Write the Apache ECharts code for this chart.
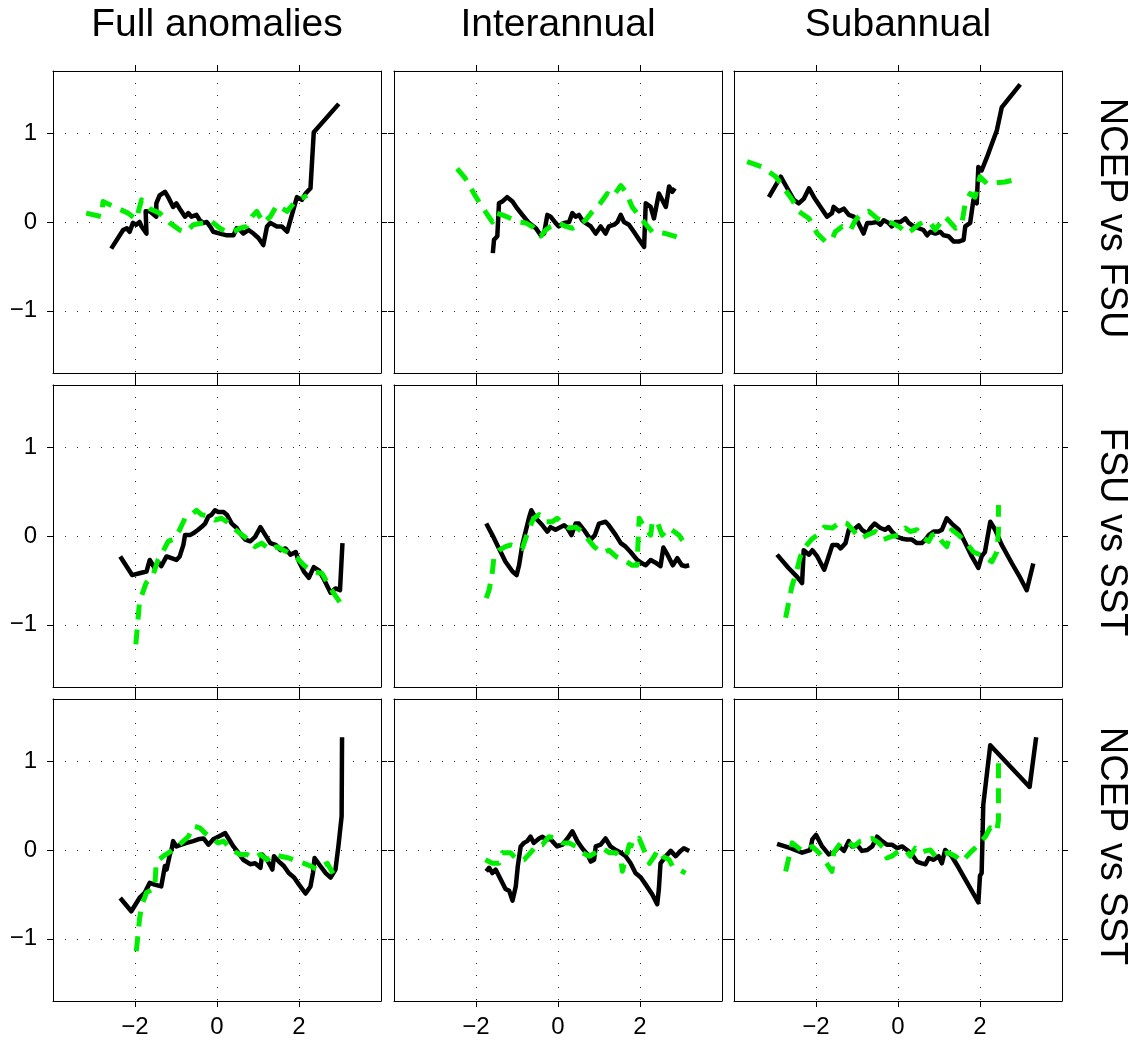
<!DOCTYPE html>
<html><head><meta charset="utf-8">
<script src="https://cdn.jsdelivr.net/npm/echarts@6/dist/echarts.min.js"></script>
<style>html,body{margin:0;padding:0;background:#fff}#c{width:1135px;height:1046px}</style>
</head><body><div id="c"></div>
<script>
const colTitles = ['Full anomalies', 'Interannual', 'Subannual'];
const rowTitles = ['NCEP vs FSU', 'FSU vs SST', 'NCEP vs SST'];
const xTicks = [-2, 0, 2];
const yTicks = [-1, 0, 1];

// Row 1: NCEP vs FSU
const ncepFsuFullBlack = [[-2.58,-0.30],[-2.29,-0.09],[-2.20,-0.07],[-2.13,-0.11],[-2.05,-0.01],[-1.97,-0.03],[-1.89,0.00],[-1.84,-0.05],[-1.72,-0.13],[-1.74,0.12],[-1.64,0.12],[-1.48,0.06],[-1.48,0.21],[-1.40,0.30],[-1.27,0.34],[-1.19,0.28],[-1.07,0.17],[-0.99,0.21],[-0.91,0.15],[-0.78,0.06],[-0.70,0.10],[-0.62,0.06],[-0.50,0.08],[-0.42,0.02],[-0.33,-0.01],[-0.25,0.00],[-0.17,-0.05],[-0.09,-0.11],[0.07,-0.13],[0.24,-0.15],[0.40,-0.15],[0.48,-0.07],[0.56,-0.09],[0.64,-0.13],[0.77,-0.09],[0.89,-0.13],[1.01,-0.18],[1.13,-0.26],[1.22,-0.05],[1.30,-0.01],[1.46,-0.05],[1.58,-0.05],[1.71,-0.11],[1.79,0.02],[1.87,0.15],[1.95,0.28],[2.07,0.25],[2.16,0.32],[2.28,0.38],[2.36,1.01],[2.97,1.33]];
const ncepFsuFullGreen = [[-3.19,0.10],[-2.82,0.06],[-2.78,0.23],[-2.17,0.10],[-1.97,0.03],[-1.84,0.25],[-1.64,0.15],[-1.40,0.10],[-1.15,-0.01],[-0.91,-0.09],[-0.74,-0.11],[-0.58,-0.03],[-0.33,-0.01],[-0.17,0.02],[-0.09,-0.01],[0.07,-0.07],[0.24,-0.11],[0.40,-0.11],[0.56,-0.07],[0.73,-0.05],[0.85,0.06],[0.97,0.12],[1.13,-0.01],[1.30,0.06],[1.46,0.19],[1.71,0.12],[1.87,0.21],[1.99,0.25],[2.20,0.30]];
const ncepFsuInterBlack = [[-1.59,-0.35],[-1.56,-0.20],[-1.48,-0.16],[-1.44,0.21],[-1.36,0.23],[-1.24,0.28],[-1.11,0.23],[-0.99,0.15],[-0.87,0.08],[-0.71,-0.01],[-0.54,-0.07],[-0.42,-0.15],[-0.34,-0.13],[-0.26,0.08],[-0.18,0.06],[-0.06,-0.01],[0.02,-0.05],[0.15,-0.01],[0.27,0.00],[0.35,0.10],[0.43,0.06],[0.51,0.08],[0.59,0.02],[0.67,-0.01],[0.80,-0.05],[0.92,-0.13],[1.04,-0.05],[1.16,-0.13],[1.24,-0.05],[1.37,-0.03],[1.45,0.00],[1.53,0.08],[1.61,0.00],[1.73,-0.03],[1.85,-0.11],[1.98,-0.20],[2.10,-0.28],[2.14,0.21],[2.26,0.17],[2.34,0.04],[2.46,0.32],[2.54,0.25],[2.63,0.17],[2.71,0.40],[2.79,0.34],[2.85,0.38]];
const ncepFsuInterGreen = [[-2.46,0.60],[-2.26,0.49],[-2.05,0.32],[-1.85,0.17],[-1.60,0.00],[-1.52,0.10],[-1.36,0.08],[-1.15,0.04],[-0.95,0.00],[-0.79,-0.01],[-0.63,-0.05],[-0.42,-0.16],[-0.30,-0.09],[-0.18,-0.05],[0.02,-0.01],[0.19,-0.05],[0.35,-0.07],[0.51,-0.03],[0.67,0.02],[0.84,0.12],[1.00,0.19],[1.20,0.32],[1.33,0.28],[1.53,0.41],[1.65,0.34],[1.81,0.17],[2.06,0.02],[2.30,-0.11],[2.63,-0.13],[2.99,-0.18]];
const ncepFsuSubBlack = [[-3.15,0.28],[-2.86,0.51],[-2.70,0.38],[-2.54,0.25],[-2.42,0.21],[-2.30,0.26],[-2.17,0.38],[-2.05,0.28],[-1.89,0.17],[-1.73,0.06],[-1.61,0.10],[-1.57,0.17],[-1.44,0.12],[-1.32,0.15],[-1.20,0.08],[-1.08,0.06],[-1.00,0.02],[-0.84,-0.13],[-0.75,-0.01],[-0.63,-0.01],[-0.51,0.00],[-0.43,-0.03],[-0.35,0.02],[-0.23,-0.01],[-0.15,-0.05],[-0.06,0.00],[0.06,0.00],[0.18,0.04],[0.26,-0.01],[0.38,-0.05],[0.50,-0.07],[0.62,-0.09],[0.71,-0.15],[0.79,-0.11],[0.91,-0.13],[1.03,-0.11],[1.11,-0.15],[1.23,-0.16],[1.36,-0.22],[1.48,-0.22],[1.60,-0.20],[1.64,-0.05],[1.76,-0.01],[1.84,0.25],[1.92,0.21],[1.96,0.62],[2.04,0.58],[2.17,0.73],[2.29,0.88],[2.41,1.03],[2.53,1.29],[2.98,1.55]];
const ncepFsuSubGreen = [[-3.68,0.68],[-3.31,0.62],[-2.98,0.51],[-2.58,0.25],[-2.42,0.12],[-2.17,0.04],[-1.97,-0.13],[-1.77,-0.22],[-1.61,-0.20],[-1.53,-0.11],[-1.36,-0.05],[-1.16,-0.09],[-1.04,0.02],[-0.92,0.08],[-0.71,0.12],[-0.51,0.04],[-0.31,0.00],[-0.15,-0.01],[0.02,-0.05],[0.22,-0.13],[0.34,-0.09],[0.50,-0.03],[0.62,0.00],[0.79,-0.01],[0.91,-0.09],[1.03,-0.01],[1.15,0.06],[1.23,0.02],[1.40,-0.07],[1.56,-0.01],[1.64,0.21],[1.76,0.32],[1.88,0.28],[2.00,0.51],[2.17,0.43],[2.61,0.45],[2.98,0.49]];

// Row 2: FSU vs SST
const fsuSstFullBlack = [[-2.36,-0.23],[-2.07,-0.44],[-1.89,-0.42],[-1.72,-0.40],[-1.64,-0.27],[-1.52,-0.36],[-1.44,-0.29],[-1.36,-0.34],[-1.23,-0.23],[-1.11,-0.25],[-0.99,-0.27],[-0.91,-0.23],[-0.82,-0.10],[-0.78,0.01],[-0.66,0.01],[-0.58,0.03],[-0.46,0.07],[-0.38,0.10],[-0.29,0.14],[-0.21,0.22],[-0.13,0.24],[-0.05,0.29],[0.03,0.27],[0.16,0.27],[0.24,0.24],[0.36,0.14],[0.48,0.09],[0.56,0.03],[0.69,-0.04],[0.81,-0.06],[0.93,-0.01],[1.06,0.10],[1.18,0.01],[1.30,-0.08],[1.43,-0.10],[1.55,-0.16],[1.67,-0.14],[1.79,-0.21],[1.92,-0.18],[2.00,-0.29],[2.12,-0.40],[2.24,-0.47],[2.36,-0.35],[2.49,-0.39],[2.61,-0.49],[2.77,-0.64],[2.89,-0.59],[3.00,-0.61],[3.06,-0.08]];
const fsuSstFullGreen = [[-1.98,-1.22],[-1.89,-0.74],[-1.73,-0.53],[-1.56,-0.44],[-1.44,-0.27],[-1.28,-0.14],[-1.19,-0.06],[-1.03,-0.03],[-0.91,0.07],[-0.78,0.20],[-0.62,0.24],[-0.50,0.29],[-0.38,0.24],[-0.21,0.22],[-0.05,0.18],[0.11,0.20],[0.24,0.16],[0.40,0.09],[0.56,0.03],[0.73,-0.03],[0.93,-0.12],[1.09,-0.08],[1.30,-0.16],[1.46,-0.12],[1.71,-0.18],[1.96,-0.25],[2.12,-0.33],[2.32,-0.40],[2.56,-0.42],[2.77,-0.59],[3.09,-0.81]];
const fsuSstInterBlack = [[-1.75,0.14],[-1.60,0.01],[-1.44,-0.14],[-1.28,-0.29],[-1.11,-0.40],[-1.01,-0.44],[-0.95,-0.33],[-0.87,-0.10],[-0.79,0.05],[-0.71,0.20],[-0.65,0.29],[-0.54,0.20],[-0.38,0.12],[-0.26,0.05],[-0.18,0.10],[-0.06,0.07],[0.02,0.09],[0.15,0.12],[0.23,0.09],[0.33,0.01],[0.43,0.14],[0.51,0.14],[0.63,0.07],[0.72,0.01],[0.80,-0.04],[0.90,0.01],[1.00,0.14],[1.16,0.16],[1.24,0.12],[1.41,0.01],[1.53,-0.08],[1.65,-0.12],[1.77,-0.18],[1.93,-0.27],[2.06,-0.31],[2.14,-0.33],[2.26,-0.27],[2.38,-0.30],[2.50,-0.34],[2.57,-0.13],[2.67,-0.21],[2.80,-0.33],[2.91,-0.25],[3.02,-0.33],[3.11,-0.34],[3.20,-0.33]];
const fsuSstInterGreen = [[-1.75,-0.70],[-1.68,-0.61],[-1.60,-0.40],[-1.56,-0.23],[-1.44,-0.16],[-1.28,-0.12],[-1.15,-0.10],[-0.87,-0.14],[-0.79,-0.03],[-0.67,0.12],[-0.59,0.20],[-0.46,0.24],[-0.30,0.16],[-0.14,0.16],[-0.02,0.20],[0.11,0.14],[0.27,0.09],[0.43,0.10],[0.59,0.05],[0.72,-0.03],[0.88,-0.12],[1.08,-0.19],[1.24,-0.16],[1.41,-0.23],[1.61,-0.27],[1.81,-0.33],[1.93,-0.33],[1.96,0.01],[1.98,0.20],[2.10,0.10],[2.26,0.01],[2.30,0.16],[2.42,0.16],[2.54,0.01],[2.71,0.09],[2.83,0.05],[2.95,0.01],[3.11,-0.10]];
const fsuSstSubBlack = [[-2.95,-0.21],[-2.67,-0.36],[-2.46,-0.46],[-2.34,-0.53],[-2.30,-0.16],[-2.17,-0.21],[-2.09,-0.16],[-1.97,-0.23],[-1.80,-0.38],[-1.72,-0.27],[-1.60,-0.10],[-1.48,-0.10],[-1.40,-0.14],[-1.28,-0.08],[-1.20,0.07],[-1.08,0.07],[-0.96,0.12],[-0.88,0.07],[-0.75,0.03],[-0.67,0.09],[-0.57,0.14],[-0.43,0.09],[-0.31,0.07],[-0.23,0.10],[-0.15,0.05],[-0.02,-0.01],[0.10,-0.03],[0.22,-0.04],[0.34,-0.04],[0.46,-0.08],[0.58,-0.08],[0.67,-0.04],[0.75,0.01],[0.87,0.05],[0.99,0.05],[1.07,0.07],[1.19,0.20],[1.31,0.14],[1.48,0.07],[1.64,-0.08],[1.80,-0.23],[1.96,-0.36],[2.04,-0.23],[2.12,-0.18],[2.25,0.16],[2.37,0.07],[2.53,-0.10],[2.78,-0.31],[2.98,-0.47],[3.14,-0.61],[3.30,-0.31]];
const fsuSstSubGreen = [[-2.74,-0.92],[-2.59,-0.57],[-2.50,-0.44],[-2.38,-0.23],[-2.26,-0.12],[-2.09,-0.03],[-1.97,0.01],[-1.80,0.10],[-1.60,0.09],[-1.40,0.16],[-1.24,0.14],[-0.92,-0.03],[-0.75,0.01],[-0.55,0.05],[-0.35,-0.04],[-0.19,-0.01],[0.02,0.01],[0.18,0.09],[0.30,0.05],[0.46,0.07],[0.58,-0.01],[0.75,-0.06],[0.83,0.01],[0.95,0.03],[1.07,-0.06],[1.19,-0.12],[1.31,0.07],[1.48,0.01],[1.64,-0.06],[1.84,-0.18],[2.09,-0.23],[2.29,-0.29],[2.41,-0.18],[2.45,0.05],[2.45,0.35]];

// Row 3: NCEP vs SST
const ncepSstFullBlack = [[-2.36,-0.54],[-2.09,-0.69],[-1.89,-0.54],[-1.76,-0.48],[-1.64,-0.37],[-1.52,-0.39],[-1.36,-0.41],[-1.27,-0.18],[-1.23,-0.22],[-1.15,-0.05],[-1.11,0.00],[-1.07,0.10],[-0.99,0.04],[-0.87,0.06],[-0.74,0.08],[-0.58,0.10],[-0.46,0.12],[-0.33,0.13],[-0.21,0.06],[-0.09,0.12],[0.03,0.15],[0.20,0.19],[0.28,0.13],[0.40,0.04],[0.52,-0.03],[0.64,-0.11],[0.81,-0.16],[0.93,-0.15],[1.06,-0.20],[1.10,-0.05],[1.22,-0.11],[1.35,-0.22],[1.39,-0.07],[1.51,-0.13],[1.63,-0.18],[1.75,-0.26],[1.88,-0.31],[2.00,-0.39],[2.16,-0.49],[2.28,-0.41],[2.34,-0.26],[2.38,-0.09],[2.52,-0.18],[2.65,-0.26],[2.77,-0.31],[2.89,-0.22],[2.96,0.04],[3.04,0.38],[3.05,1.27]];
const ncepSstFullGreen = [[-1.97,-1.14],[-1.93,-0.97],[-1.89,-0.78],[-1.84,-0.63],[-1.72,-0.48],[-1.52,-0.43],[-1.48,-0.13],[-1.31,-0.07],[-1.11,-0.01],[-0.87,0.08],[-0.70,0.15],[-0.58,0.27],[-0.42,0.25],[-0.29,0.19],[-0.13,0.13],[0.03,0.08],[0.16,0.10],[0.36,0.00],[0.56,-0.05],[0.73,-0.05],[0.89,-0.09],[1.06,-0.05],[1.22,-0.11],[1.39,-0.05],[1.55,-0.07],[1.75,-0.09],[1.96,-0.13],[2.12,-0.15],[2.28,-0.18],[2.44,-0.22],[2.69,-0.15],[2.85,-0.28]];
const ncepSstInterBlack = [[-1.75,-0.24],[-1.68,-0.20],[-1.60,-0.26],[-1.52,-0.22],[-1.40,-0.33],[-1.28,-0.44],[-1.19,-0.46],[-1.11,-0.57],[-1.03,-0.41],[-0.98,-0.18],[-0.91,0.04],[-0.83,0.08],[-0.75,0.10],[-0.67,0.15],[-0.59,0.08],[-0.46,0.13],[-0.38,0.15],[-0.30,0.12],[-0.18,0.12],[-0.10,0.08],[-0.02,0.04],[0.11,0.06],[0.23,0.13],[0.35,0.21],[0.47,0.10],[0.59,0.02],[0.72,-0.05],[0.80,-0.13],[0.88,-0.11],[0.92,0.04],[1.04,0.06],[1.16,0.13],[1.28,0.04],[1.41,0.00],[1.53,-0.03],[1.65,-0.07],[1.77,-0.15],[1.89,-0.26],[2.02,-0.31],[2.14,-0.39],[2.30,-0.50],[2.42,-0.61],[2.46,-0.44],[2.50,-0.15],[2.63,-0.07],[2.75,-0.01],[2.87,-0.07],[2.99,-0.01],[3.07,0.02],[3.20,-0.01]];
const ncepSstInterGreen = [[-1.77,-0.11],[-1.60,-0.15],[-1.44,-0.15],[-1.36,-0.03],[-1.16,-0.03],[-0.99,-0.11],[-0.83,-0.11],[-0.67,-0.03],[-0.50,0.06],[-0.38,0.06],[-0.22,0.15],[-0.02,0.13],[0.11,0.08],[0.27,0.08],[0.43,0.04],[0.59,-0.03],[0.76,-0.07],[0.92,-0.03],[1.09,0.02],[1.25,-0.03],[1.41,-0.03],[1.53,-0.09],[1.57,-0.24],[1.74,0.06],[1.86,0.04],[1.98,0.13],[2.23,-0.15],[2.35,-0.07],[2.43,0.00],[2.55,-0.07],[2.71,-0.11],[2.79,-0.18],[2.95,-0.22],[3.11,-0.26]];
const ncepSstSubBlack = [[-2.95,0.07],[-2.62,0.02],[-2.34,-0.03],[-2.14,0.00],[-2.09,0.12],[-2.00,0.17],[-1.85,0.04],[-1.69,-0.05],[-1.57,-0.03],[-1.44,0.04],[-1.32,-0.01],[-1.20,0.10],[-1.12,0.04],[-1.00,0.06],[-0.88,-0.01],[-0.75,0.00],[-0.63,0.04],[-0.51,0.15],[-0.39,0.10],[-0.27,0.06],[-0.15,0.06],[-0.02,0.02],[0.10,0.04],[0.22,0.00],[0.34,-0.05],[0.46,-0.13],[0.58,-0.15],[0.67,-0.16],[0.75,-0.09],[0.87,-0.11],[0.99,-0.07],[1.07,-0.15],[1.15,0.00],[1.31,-0.07],[1.48,-0.20],[1.64,-0.33],[1.80,-0.46],[1.96,-0.59],[2.00,-0.29],[2.04,-0.26],[2.08,0.51],[2.12,0.53],[2.25,1.18],[3.21,0.71],[3.37,1.27]];
const ncepSstSubGreen = [[-2.74,-0.24],[-2.58,0.08],[-2.34,-0.01],[-2.09,0.04],[-1.93,-0.03],[-1.77,-0.13],[-1.61,-0.24],[-1.57,-0.03],[-1.40,0.08],[-1.24,0.10],[-1.08,0.04],[-0.92,0.10],[-0.75,0.12],[-0.63,0.13],[-0.47,0.08],[-0.35,0.02],[-0.27,-0.09],[-0.15,-0.07],[0.02,-0.01],[0.18,0.00],[0.30,-0.07],[0.42,0.02],[0.54,-0.03],[0.67,-0.01],[0.79,0.00],[0.91,-0.07],[1.07,-0.05],[1.23,-0.03],[1.40,-0.07],[1.56,-0.13],[1.76,-0.03],[1.92,0.04],[2.13,0.15],[2.25,0.25],[2.33,0.23],[2.41,0.21],[2.45,0.34],[2.45,0.71],[2.45,0.99]];

const panels = [
  [[ncepFsuFullBlack, ncepFsuFullGreen], [ncepFsuInterBlack, ncepFsuInterGreen], [ncepFsuSubBlack, ncepFsuSubGreen]],
  [[fsuSstFullBlack, fsuSstFullGreen], [fsuSstInterBlack, fsuSstInterGreen], [fsuSstSubBlack, fsuSstSubGreen]],
  [[ncepSstFullBlack, ncepSstFullGreen], [ncepSstInterBlack, ncepSstInterGreen], [ncepSstSubBlack, ncepSstSubGreen]]
];

const FONT = "'Liberation Sans', Arial, Helvetica, sans-serif";
const lefts = [53, 394, 734];
const tops = [71, 385, 699];
const W = 328, H = 302;
const fmt = v => (v < 0 ? '\u2212' + Math.abs(v) : String(v));

const grid = [], xAxis = [], yAxis = [], series = [], graphic = [];
const line = { show: true, onZero: false, lineStyle: { color: '#000', width: 1 } };
const tick = (vals) => ({ show: true, customValues: vals, length: 6, lineStyle: { color: '#000', width: 1 } });
const split = { show: true, lineStyle: { type: [1, 11], color: '#222', width: 1 } };

for (let r = 0; r < 3; r++) {
  for (let c = 0; c < 3; c++) {
    const gi = r * 3 + c;
    grid.push({ left: lefts[c], top: tops[r], width: W, height: H, containLabel: false });
    xAxis.push({
      type: 'value', gridIndex: gi, min: -4, max: 4, splitNumber: 4, position: 'bottom',
      axisLine: line, axisTick: tick(xTicks),
      axisLabel: { show: r === 2, customValues: xTicks, formatter: fmt, fontSize: 24, color: '#000', margin: 14, fontFamily: FONT },
      splitLine: split
    });
    xAxis.push({
      type: 'value', gridIndex: gi, min: -4, max: 4, splitNumber: 4, position: 'top',
      axisLine: line, axisTick: tick(xTicks), axisLabel: { show: false }, splitLine: { show: false }
    });
    yAxis.push({
      type: 'value', gridIndex: gi, min: -1.7, max: 1.7, splitNumber: 3, position: 'left',
      axisLine: line, axisTick: tick(yTicks),
      axisLabel: { show: c === 0, customValues: yTicks, formatter: fmt, fontSize: 24, color: '#000', margin: 16, fontFamily: FONT },
      splitLine: split
    });
    yAxis.push({
      type: 'value', gridIndex: gi, min: -1.7, max: 1.7, splitNumber: 3, position: 'right',
      axisLine: line, axisTick: tick(yTicks), axisLabel: { show: false }, splitLine: { show: false }
    });
    const [blk, grn] = panels[r][c];
    series.push({
      type: 'line', xAxisIndex: gi * 2, yAxisIndex: gi * 2, data: blk, showSymbol: false, symbol: 'none',
      silent: true, animation: false,
      lineStyle: { color: '#000', width: 4.5, join: 'round', cap: 'butt' }
    });
    series.push({
      type: 'line', xAxisIndex: gi * 2, yAxisIndex: gi * 2, data: grn, showSymbol: false, symbol: 'none',
      silent: true, animation: false,
      lineStyle: { color: '#00ee00', width: 5, type: [15, 10], join: 'round', cap: 'butt' }
    });
  }
}

for (let c = 0; c < 3; c++) {
  graphic.push({
    type: 'text', x: lefts[c] + W / 2, y: 25,
    style: { text: colTitles[c], fontSize: 39, fontFamily: FONT, fill: '#000', align: 'center', verticalAlign: 'middle' }
  });
}
for (let r = 0; r < 3; r++) {
  graphic.push({
    type: 'text', x: 1111, y: tops[r] + H / 2 - 4, rotation: -Math.PI / 2,
    style: { text: rowTitles[r], fontSize: 38, fontFamily: FONT, fill: '#000', align: 'center', verticalAlign: 'middle' }
  });
}

const chart = echarts.init(document.getElementById('c'), null, { renderer: 'canvas' });
chart.setOption({ animation: false, backgroundColor: '#fff', grid, xAxis, yAxis, series, graphic });
</script></body></html>
